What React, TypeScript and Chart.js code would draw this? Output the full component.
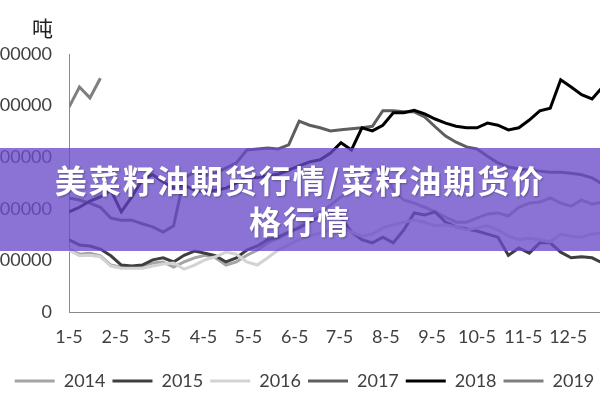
import React, { useEffect, useRef } from "react";
import { Chart, registerables } from "chart.js";

Chart.register(...registerables);

// ---------- data ----------
const years = ["2014", "2015", "2016", "2017", "2018", "2019"];
const monthTickLabels = ["1-5", "2-5", "3-5", "4-5", "5-5", "6-5", "7-5", "8-5", "9-5", "10-5", "11-5", "12-5"];
const monthTickDays = [5, 36, 64, 95, 125, 156, 186, 217, 248, 278, 309, 339];
const firstWeekDay = 5;
const daysPerWeek = 7;
const unitLabel = "吨";
const bannerTitle = "美菜籽油期货行情/菜籽油期货价格行情";

const s2014 = [
  122000, 112000, 114000, 109000, 91000, 87000, 87000, 89000, 95000, 97000,
  87000, 97000, 105000, 110000, 105000, 91000, 97000, 110000, 120000, 134000,
  143000, 153000, 165000, 182000, 194000, 207000, 223000, 236000, 252000, 271000,
  283000, 236000, 217000, 211000, 203000, 194000, 184000, 174000, 174000, 182000,
  190000, 192000, 186000, 203000, 211000, 213000, 221000, 211000, 205000, 217000,
  209000, 213000,
];
const s2015 = [
  140000, 130000, 128000, 122000, 109000, 91000, 89000, 91000, 101000, 105000,
  97000, 110000, 118000, 114000, 109000, 97000, 105000, 120000, 128000, 140000,
  145000, 155000, 163000, 174000, 186000, 192000, 184000, 155000, 140000, 134000,
  145000, 134000, 159000, 192000, 188000, 194000, 174000, 165000, 161000, 157000,
  151000, 145000, 110000, 124000, 114000, 134000, 134000, 116000, 105000, 107000,
  105000, 95000,
];
const s2016 = [
  120000, 109000, 110000, 107000, 89000, 85000, 85000, 85000, 89000, 93000,
  95000, 83000, 91000, 101000, 107000, 116000, 112000, 97000, 91000, 105000,
  120000, 130000, 140000, 147000, 153000, 159000, 163000, 155000, 147000, 151000,
  163000, 169000, 174000, 178000, 174000, 167000, 169000, 165000, 159000, 163000,
  167000, 159000, 147000, 140000, 143000, 140000, 136000, 151000, 147000, 145000,
  151000, 153000,
];
const s2017 = [
  221000, 217000, 211000, 203000, 182000, 178000, 178000, 171000, 165000, 155000,
  167000, 260000, 271000, 264000, 269000, 279000, 289000, 314000, 316000, 318000,
  316000, 324000, 370000, 362000, 357000, 351000, 353000, 355000, 357000, 360000,
  390000, 390000, 388000, 388000, 378000, 359000, 341000, 329000, 320000, 316000,
  302000, 289000, 281000, 277000, 275000, 273000, 271000, 271000, 269000, 266000,
  260000, 248000,
];
const s2018 = [
  194000, 203000, 215000, 223000, 236000, 194000, 223000, 256000, 266000, 252000,
  240000, 246000, 236000, 233000, 236000, 240000, 250000, 262000, 260000, 264000,
  267000, 275000, 283000, 291000, 295000, 308000, 328000, 314000, 357000, 351000,
  362000, 386000, 386000, 391000, 384000, 374000, 366000, 360000, 357000, 357000,
  366000, 362000, 353000, 357000, 372000, 390000, 395000, 450000, 436000, 421000,
  413000, 436000,
];
const s2019 = [397000, 436000, 415000, 453000];

const seriesValues = [s2014, s2015, s2016, s2017, s2018, s2019];
const seriesColors = ["#A5A5A5", "#3F3F3F", "#D3D3D3", "#5E5E5E", "#000000", "#7F7F7F"];

const yMin = 0;
const yMax = 500000;
const yStep = 100000;
const xMin = 5;
const xMax = 367;

const tickFont = { family: "Lato, 'Open Sans', sans-serif", size: 18 };
const textColor = "#404040";
const axisColor = "#8A8A8A";

const toPoints = (values: number[]) =>
  values.map((v, i) => ({ x: firstWeekDay + daysPerWeek * i, y: v }));

const unitPlugin = {
  id: "unitLabel",
  afterDraw(chart: any) {
    const { ctx, chartArea } = chart;
    ctx.save();
    ctx.font = "21px 'Noto Sans CJK SC', sans-serif";
    ctx.fillStyle = "#1f1f1f";
    ctx.textAlign = "right";
    ctx.textBaseline = "middle";
    ctx.fillText(unitLabel, chartArea.left - 16, 28);
    ctx.restore();
  },
};

export default function App() {
  const ref = useRef<HTMLCanvasElement>(null);

  useEffect(() => {
    if (!ref.current) return;
    const chart = new Chart(ref.current, {
      type: "line",
      data: {
        datasets: seriesValues.map((vals, k) => ({
          label: years[k],
          data: toPoints(vals),
          borderColor: seriesColors[k],
          backgroundColor: seriesColors[k],
          borderWidth: 3,
          pointRadius: 0,
          pointHoverRadius: 0,
          tension: 0,
          fill: false,
          order: seriesValues.length - k,
        })),
      },
      options: {
        animation: false,
        responsive: false,
        events: [],
        layout: { padding: { top: 54, left: 0, right: 0, bottom: 0 } },
        scales: {
          x: {
            type: "linear",
            min: xMin,
            max: xMax,
            afterBuildTicks: (scale: any) => {
              scale.ticks = monthTickDays.map((v) => ({ value: v }));
            },
            afterFit: (scale: any) => {
              scale.height = 53;
            },
            grid: { display: false, drawTicks: false },
            border: { display: true, color: axisColor, width: 1 },
            ticks: {
              autoSkip: false,
              maxRotation: 0,
              padding: 14,
              color: textColor,
              font: tickFont,
              callback: (v: any) => {
                const idx = monthTickDays.indexOf(Number(v));
                return idx >= 0 ? monthTickLabels[idx] : "";
              },
            },
          },
          y: {
            min: yMin,
            max: yMax,
            afterFit: (scale: any) => {
              scale.width = 70;
            },
            grid: { display: false, drawTicks: false },
            border: { display: true, color: axisColor, width: 1 },
            ticks: {
              stepSize: yStep,
              padding: 17,
              color: textColor,
              font: tickFont,
              callback: (v: any) => String(v),
            },
          },
        },
        plugins: {
          legend: {
            position: "bottom",
            labels: {
              usePointStyle: true,
              pointStyle: "line",
              pointStyleWidth: 40,
              padding: 7,
              color: textColor,
              font: tickFont,
              sort: (a: any, b: any) => a.datasetIndex - b.datasetIndex,
            },
          },
          tooltip: { enabled: false },
          title: { display: false },
        },
      },
      plugins: [unitPlugin],
    } as any);
    return () => chart.destroy();
  }, []);

  return (
    <div
      style={{
        position: "fixed",
        left: 0,
        top: 0,
        width: 600,
        height: 400,
        overflow: "hidden",
        background: "#ffffff",
      }}
    >
      <canvas
        ref={ref}
        width={611}
        height={400}
        style={{ position: "absolute", left: -1, top: 0, width: 611, height: 400 }}
      />
      <div
        style={{
          position: "absolute",
          left: 0,
          top: 148,
          width: 600,
          height: 103,
          background: "rgba(105, 75, 200, 0.78)",
          display: "flex",
          alignItems: "center",
          justifyContent: "center",
        }}
      >
        <div
          style={{
            width: 500,
            textAlign: "center",
            color: "#ffffff",
            fontFamily: "'Noto Sans CJK SC', sans-serif",
            fontWeight: 700,
            fontSize: 32,
            lineHeight: "41px",
            letterSpacing: 2,
            textShadow: "1px 1px 2px rgba(0,0,0,0.3)",
          }}
        >
          {bannerTitle}
        </div>
      </div>
    </div>
  );
}
